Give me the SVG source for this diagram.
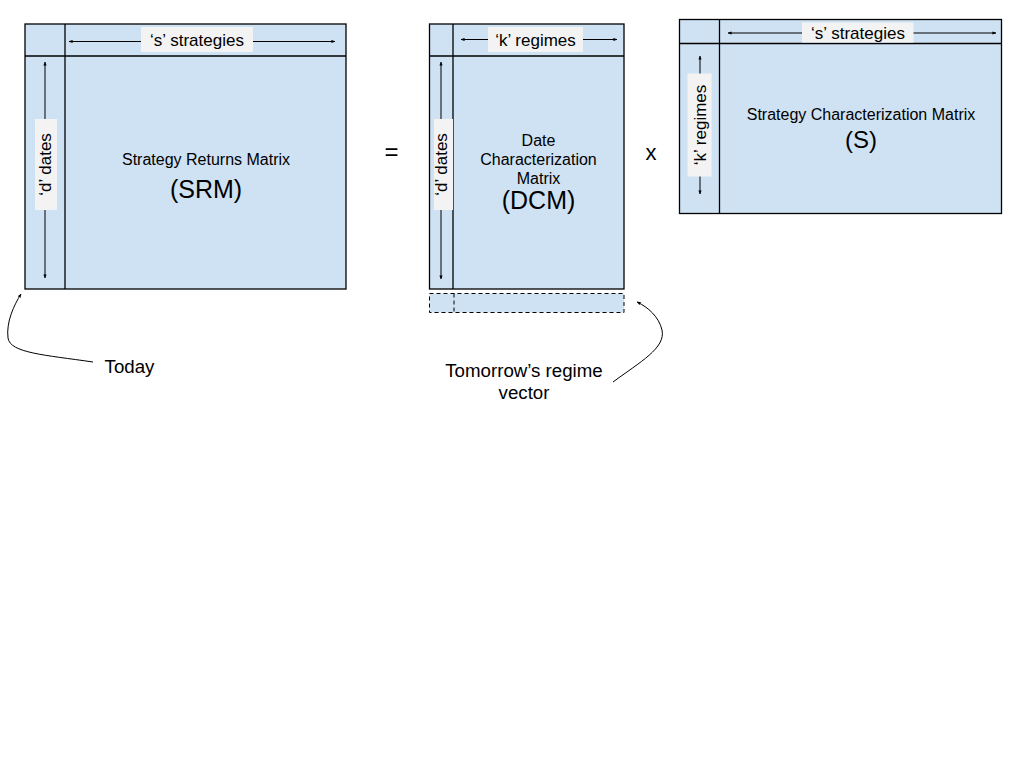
<svg xmlns="http://www.w3.org/2000/svg" width="1024" height="768" viewBox="0 0 1024 768">
<defs>
<marker id="ah" viewBox="0 0 10 10" refX="9" refY="5" markerWidth="4" markerHeight="4" orient="auto-start-reverse" markerUnits="userSpaceOnUse">
<path d="M0,1 L10,5 L0,9 z" fill="#000"/>
</marker>
<style>
.cell{fill:#cfe2f3;stroke:#000;stroke-width:1.3}
.dash{fill:#cfe2f3;stroke:#000;stroke-width:1;stroke-dasharray:4,3}
.ln{stroke:#000;stroke-width:1.3;fill:none}
.arr{stroke:#000;stroke-width:1;fill:none;marker-start:url(#ah);marker-end:url(#ah)}
.lbl{fill:#f3f3f3;stroke:none}
.t{font-family:"Liberation Sans",Arial,sans-serif;fill:#000;text-anchor:middle}
.s16{font-size:16px}
.s17{font-size:17px}
.s19{font-size:18.7px}
.s25{font-size:25px}
.call{stroke:#000;stroke-width:1;fill:none;marker-end:url(#ah)}
</style>
</defs>
<rect width="1024" height="768" fill="#fff"/>

<g id="srm">
<rect class="cell" x="25" y="24" width="321" height="265"/>
<line class="ln" x1="25" y1="56" x2="346" y2="56"/>
<line class="ln" x1="65" y1="24" x2="65" y2="289"/>
<line class="arr" x1="69" y1="41.5" x2="335" y2="41.5"/>
<rect class="lbl" x="141" y="27" width="112" height="25"/>
<text class="t s17" x="197" y="46">‘s’ strategies</text>
<line class="arr" x1="45" y1="62" x2="45" y2="278"/>
<rect class="lbl" x="35" y="119" width="22" height="91"/>
<text class="t s17" transform="translate(51,164.5) rotate(-90)">‘d’ dates</text>
<text class="t s16" x="206" y="165">Strategy Returns Matrix</text>
<text class="t s25" x="206" y="198">(SRM)</text>
</g>

<g id="equals">
<text class="t" style="font-size:24px" x="391.5" y="160">=</text>
</g>

<g id="dcm">
<rect class="cell" x="429.5" y="24" width="194.5" height="265"/>
<line class="ln" x1="429.5" y1="56" x2="624" y2="56"/>
<line class="ln" x1="453" y1="24" x2="453" y2="289"/>
<line class="arr" x1="461" y1="39.5" x2="617" y2="39.5"/>
<rect class="lbl" x="488" y="27" width="95" height="25"/>
<text class="t s17" x="535.5" y="46">‘k’ regimes</text>
<line class="arr" x1="441" y1="62" x2="441" y2="279"/>
<rect class="lbl" x="434" y="119" width="19" height="91"/>
<text class="t s17" transform="translate(447,164.5) rotate(-90)">‘d’ dates</text>
<text class="t s16" x="538.5" y="146">Date</text>
<text class="t s16" x="538.5" y="165">Characterization</text>
<text class="t s16" x="538.5" y="184">Matrix</text>
<text class="t s25" x="538.5" y="209">(DCM)</text>
</g>

<g id="tomorrow-row">
<rect class="dash" x="429.5" y="293.5" width="194.5" height="19"/>
<line class="ln" style="stroke-width:1;stroke-dasharray:4,3" x1="454" y1="293.5" x2="454" y2="312.5"/>
</g>

<g id="times">
<text class="t" style="font-size:22px" x="651" y="160">x</text>
</g>

<g id="s">
<rect class="cell" x="679.5" y="19.5" width="322" height="194"/>
<line class="ln" x1="679.5" y1="43.5" x2="1001.5" y2="43.5"/>
<line class="ln" x1="719.5" y1="19.5" x2="719.5" y2="213.5"/>
<line class="arr" x1="728" y1="33" x2="996" y2="33"/>
<rect class="lbl" x="802" y="22.5" width="111.5" height="20"/>
<text class="t s17" x="858" y="39">‘s’ strategies</text>
<line class="arr" x1="700" y1="56" x2="700" y2="194"/>
<rect class="lbl" x="687.5" y="73.5" width="24" height="103"/>
<text class="t s17" transform="translate(706,125) rotate(-90)">‘k’ regimes</text>
<text class="t s16" x="861" y="120">Strategy Characterization Matrix</text>
<text class="t" style="font-size:24px" x="861" y="148">(S)</text>
</g>

<g id="connectors">
<path class="call" d="M 93 362 C 45 355 10 353 8 338 C 6 322 14 305 21 294"/>
<path class="call" d="M 613 382 C 640 362 666 348 662 330 C 659 317 648 307 637 302"/>
</g>

<g id="today">
<text class="t s19" x="129.5" y="373">Today</text>
</g>

<g id="tomorrow-label">
<text class="t s19" x="524" y="377">Tomorrow’s regime</text>
<text class="t s19" x="524" y="399">vector</text>
</g>
</svg>
